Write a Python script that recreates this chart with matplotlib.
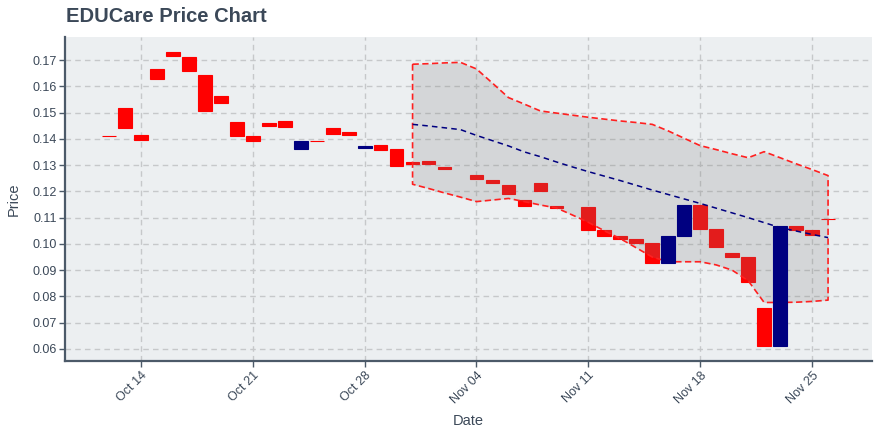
import matplotlib
matplotlib.use('Agg')
import matplotlib.pyplot as plt
import matplotlib.dates as mdates
import pandas as pd

plt.rcParams['font.family'] = ['Liberation Sans', 'DejaVu Sans']
plt.rcParams['lines.scale_dashes'] = False

# ---- candle data ----
dates = ['2018-10-12', '2018-10-13', '2018-10-14', '2018-10-15', '2018-10-16', '2018-10-17',
         '2018-10-18', '2018-10-19', '2018-10-20', '2018-10-21', '2018-10-22', '2018-10-23',
         '2018-10-24', '2018-10-25', '2018-10-26', '2018-10-27', '2018-10-28', '2018-10-29',
         '2018-10-30', '2018-10-31', '2018-11-01', '2018-11-02', '2018-11-04', '2018-11-05',
         '2018-11-06', '2018-11-07', '2018-11-08', '2018-11-09', '2018-11-11', '2018-11-12',
         '2018-11-13', '2018-11-14', '2018-11-15', '2018-11-16', '2018-11-17', '2018-11-18',
         '2018-11-19', '2018-11-20', '2018-11-21', '2018-11-22', '2018-11-23', '2018-11-24',
         '2018-11-25', '2018-11-26']
opens = [0.1411, 0.1517, 0.1415, 0.1666, 0.1730, 0.1711, 0.1643, 0.1563, 0.1464, 0.1411,
         0.1460, 0.1468, 0.1361, 0.1392, 0.1441, 0.1426, 0.1366, 0.1376, 0.1361, 0.1312,
         0.1316, 0.1293, 0.1262, 0.1243, 0.1224, 0.1167, 0.1232, 0.1144, 0.1140, 0.1053,
         0.1030, 0.1019, 0.1003, 0.0927, 0.1030, 0.1148, 0.1057, 0.0965, 0.0950, 0.0756,
         0.0611, 0.1068, 0.1053, 0.1095]
closes = [0.1409, 0.1441, 0.1396, 0.1628, 0.1715, 0.1658, 0.1506, 0.1536, 0.1411, 0.1392,
          0.1449, 0.1445, 0.1392, 0.1390, 0.1418, 0.1415, 0.1373, 0.1357, 0.1297, 0.1304,
          0.1304, 0.1287, 0.1247, 0.1232, 0.1190, 0.1144, 0.1201, 0.1138, 0.1053, 0.1030,
          0.1019, 0.1003, 0.0927, 0.1030, 0.1148, 0.1057, 0.0988, 0.0950, 0.0855, 0.0611,
          0.1068, 0.1053, 0.1034, 0.1093]

# ---- forecast band ----
band_start = '2018-10-31'
band_upper = [0.1684, 0.1686, 0.1689, 0.1691, 0.1666, 0.1612, 0.1557, 0.1532, 0.1506,
              0.1498, 0.1490, 0.1482, 0.1475, 0.1468, 0.1462, 0.1455, 0.1430, 0.1402,
              0.1374, 0.1359, 0.1343, 0.1328, 0.1351, 0.1328, 0.1305, 0.1283, 0.1260]
band_mid = [0.1455, 0.1449, 0.1442, 0.1435, 0.1413, 0.1393, 0.1373, 0.1350, 0.1332,
            0.1312, 0.1293, 0.1275, 0.1258, 0.1241, 0.1223, 0.1205, 0.1188, 0.1171,
            0.1154, 0.1136, 0.1118, 0.1100, 0.1081, 0.1062, 0.1049, 0.1036, 0.1024]
band_lower = [0.1227, 0.1211, 0.1194, 0.1178, 0.1161, 0.1167, 0.1173, 0.1161, 0.1148,
              0.1137, 0.1110, 0.1082, 0.1050, 0.1020, 0.0985, 0.0950, 0.0932, 0.0932,
              0.0932, 0.0920, 0.0900, 0.0860, 0.0777, 0.0777, 0.0778, 0.0781, 0.0786]

tick_dates = ['2018-10-14', '2018-10-21', '2018-10-28', '2018-11-04', '2018-11-11',
              '2018-11-18', '2018-11-25']
y_ticks = [0.06, 0.07, 0.08, 0.09, 0.10, 0.11, 0.12, 0.13, 0.14, 0.15, 0.16, 0.17]

TEXT = '#3b4858'
AXIS = '#4c5a69'

fig = plt.figure(figsize=(8.8, 4.4), dpi=100)
ax = fig.add_axes([65 / 880, 1 - 361 / 440, (872 - 65) / 880, (361 - 37) / 440])
ax.set_facecolor('#eceff1')

x = mdates.date2num(pd.to_datetime(dates))
up = [c > o for o, c in zip(opens, closes)]
for want_up, color, z in [(False, '#ff0000', 2), (True, '#000080', 5)]:
    xs = [xi for xi, u in zip(x, up) if u == want_up]
    bs = [min(o, c) for o, c, u in zip(opens, closes, up) if u == want_up]
    hs = [abs(c - o) for o, c, u in zip(opens, closes, up) if u == want_up]
    ax.bar(xs, hs, bottom=bs, width=0.86, color=color, edgecolor=color,
           linewidth=0.8, zorder=z)

bx = mdates.date2num(pd.date_range(band_start, periods=len(band_upper), freq='D'))
ax.fill_between(bx, band_lower, band_upper, color=(0.5, 0.5, 0.5), alpha=0.22,
                linewidth=0, zorder=3)
px = list(bx) + list(bx[::-1]) + [bx[0]]
py = list(band_upper) + list(band_lower[::-1]) + [band_upper[0]]
ax.plot(px, py, color='#ff2020', linewidth=1.2, dashes=(4.5, 2.5), zorder=4)
ax.plot(bx, band_mid, color='#000080', linewidth=1.1, dashes=(4, 3), zorder=4)

ax.set_xlim(mdates.date2num(pd.Timestamp('2018-10-09 06:00')),
            mdates.date2num(pd.Timestamp('2018-11-28 18:00')))
ax.set_ylim(0.05542, 0.17876)

ax.set_yticks(y_ticks)
ax.set_yticklabels([f'{v:.2f}' for v in y_ticks])
tx = mdates.date2num(pd.to_datetime(tick_dates))
ax.set_xticks(tx)
ax.set_xticklabels([pd.Timestamp(d).strftime('%b %d') for d in tick_dates],
                   rotation=45, ha='right', rotation_mode='anchor')

ax.grid(True, color='#c6c8ca', linewidth=1.0, linestyle=(0, (4, 3)), zorder=1)
ax.set_axisbelow(True)

for s in ['top', 'right']:
    ax.spines[s].set_visible(False)
for s in ['left', 'bottom']:
    ax.spines[s].set_color(AXIS)
    ax.spines[s].set_linewidth(1.6)
ax.tick_params(axis='both', colors=AXIS, labelcolor=TEXT, labelsize=9, length=4,
               width=1, direction='out', pad=2)

ax.set_ylabel('Price', fontsize=10.5, color=TEXT, labelpad=8)
ax.set_xlabel('Date', fontsize=10.5, color=TEXT, labelpad=6)

fig.text(66 / 880, 1 - 16 / 440, 'EDUCare Price Chart', fontsize=14.5, fontweight='bold',
         color=TEXT, va='center', ha='left')

fig.savefig('out.png', dpi=100)
